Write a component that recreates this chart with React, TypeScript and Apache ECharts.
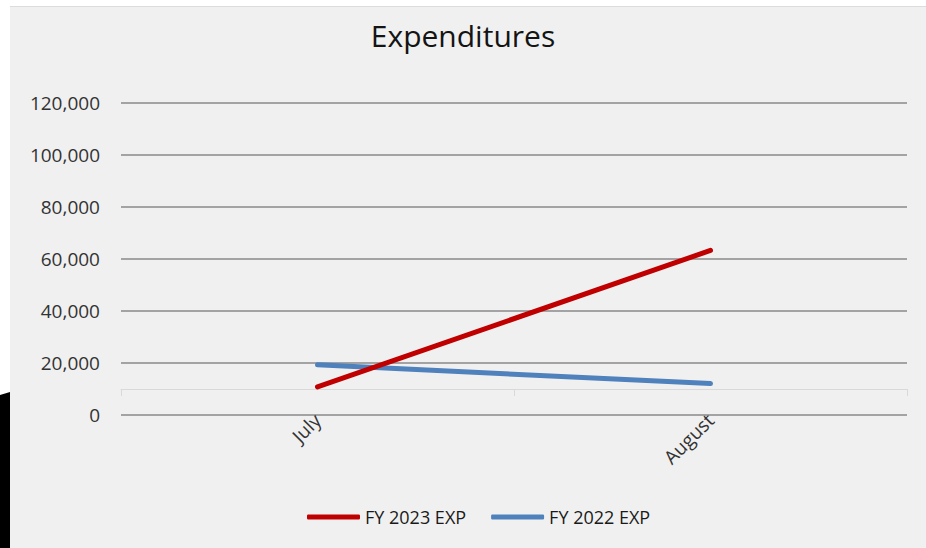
import React, { useEffect, useRef } from "react";
import * as echarts from "echarts";

const categories = ["July", "August"];
const fy2023 = [10800, 63300];
const fy2022 = [19300, 12100];
const seriesNames = ["FY 2023 EXP", "FY 2022 EXP"];
const yTicks = { min: 0, max: 120000, interval: 20000 };

const FONT = "'Open Sans', 'Noto Sans', sans-serif";

export default function App() {
  const ref = useRef<HTMLDivElement>(null);
  useEffect(() => {
    if (!ref.current) return;
    const chart = echarts.init(ref.current, undefined, { renderer: "svg" });
    chart.setOption({
      animation: false,
      backgroundColor: "#ffffff",
      graphic: [
        {
          type: "rect",
          z: -10,
          silent: true,
          shape: { x: 10, y: 7, width: 916, height: 541 },
          style: { fill: "#f0f0f0" },
        },
        {
          type: "line",
          z: -9,
          silent: true,
          shape: { x1: 10, y1: 6.5, x2: 926, y2: 6.5 },
          style: { stroke: "#dcdcdc", lineWidth: 1 },
        },
        {
          type: "polygon",
          z: -8,
          silent: true,
          shape: { points: [[0, 395], [10, 392], [10, 548], [0, 548]] },
          style: { fill: "#000000" },
        },
      ],
      title: {
        text: "Expenditures",
        left: "center",
        top: 15,
        textStyle: {
          fontFamily: FONT,
          fontSize: 30,
          fontWeight: "normal",
          color: "#141414",
        },
      },
      legend: {
        left: 302,
        top: 503,
        icon: "roundRect",
        itemWidth: 53,
        itemHeight: 5,
        itemGap: 25,
        textStyle: { fontFamily: FONT, fontSize: 18, color: "#1a1a1a", padding: [0, 0, 0, 0] },
        data: seriesNames,
      },
      grid: { left: 121, right: 19, top: 103, bottom: 133, containLabel: false },
      xAxis: {
        type: "category",
        data: categories,
        boundaryGap: true,
        offset: -26,
        axisLine: { show: true, lineStyle: { color: "#d9d9d9", width: 1 } },
        axisTick: { show: true, length: 7, lineStyle: { color: "#d9d9d9" } },
        axisLabel: {
          rotate: 45,
          margin: 28,
          fontFamily: FONT,
          fontSize: 19,
          color: "#333333",
        },
        splitLine: { show: false },
      },
      yAxis: {
        type: "value",
        min: yTicks.min,
        max: yTicks.max,
        interval: yTicks.interval,
        axisLine: { show: false },
        axisTick: { show: false },
        axisLabel: {
          margin: 21,
          fontFamily: FONT,
          fontSize: 19,
          color: "#333333",
          formatter: (v: number) => v.toLocaleString("en-US"),
        },
        splitLine: { show: true, lineStyle: { color: "#8a8a8a", width: 1.5 } },
      },
      series: [
        {
          name: seriesNames[0],
          type: "line",
          data: fy2023,
          symbol: "none",
          color: "#c00000",
          lineStyle: { color: "#c00000", width: 5, cap: "round" },
          z: 3,
        },
        {
          name: seriesNames[1],
          type: "line",
          data: fy2022,
          symbol: "none",
          color: "#4f81bd",
          lineStyle: { color: "#4f81bd", width: 5, cap: "round" },
          z: 2,
        },
      ],
    });
    return () => chart.dispose();
  }, []);
  return (
    <div
      ref={ref}
      style={{ position: "fixed", left: 0, top: 0, width: 926, height: 548 }}
    />
  );
}
